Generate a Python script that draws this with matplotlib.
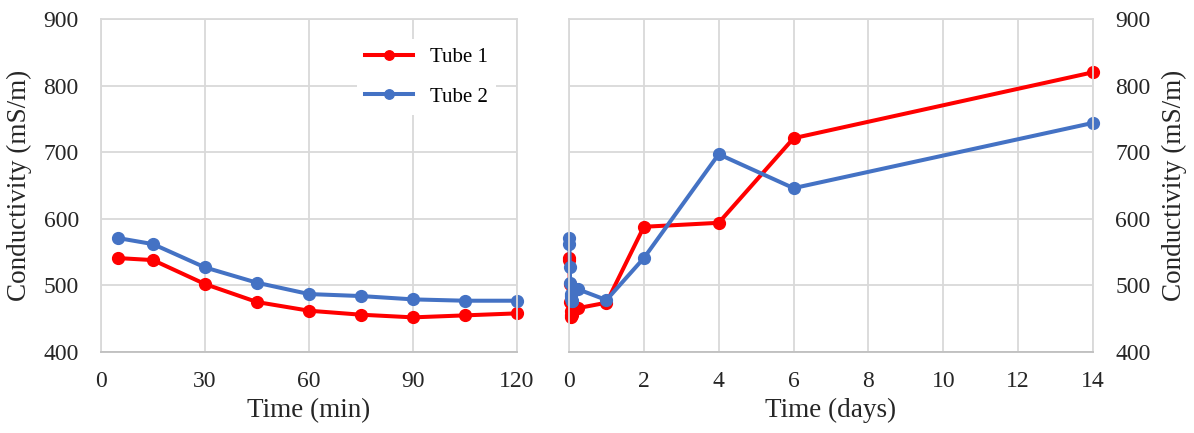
import matplotlib
matplotlib.use('Agg')
import matplotlib.pyplot as plt
import numpy as np

# conductivity during the first two hours (minutes)
minutes = [5, 15, 30, 45, 60, 75, 90, 105, 120]
tube1_min = [541, 538, 502, 475, 462, 456, 452, 455, 458]
tube2_min = [571, 562, 527, 504, 487, 484, 479, 477, 477]

# later readings (days)
days = [0.25, 1, 2, 4, 6, 14]
tube1_days = [466, 474, 588, 594, 721, 820]
tube2_days = [494, 478, 541, 697, 646, 744]

red = '#FF0000'
blue = '#4472C4'
grid_col = '#D9D9D9'
text_col = '#262626'

plt.rcParams['font.family'] = ['Liberation Serif', 'DejaVu Serif']

fig = plt.figure(figsize=(11.94, 4.33), dpi=100)
ax1 = fig.add_axes([101/1194, 1-352/433, 416/1194, 333/433])
ax2 = fig.add_axes([569/1194, 1-352/433, 524/1194, 333/433])

line_kw = dict(lw=2.9, marker='o', ms=8.5, solid_joinstyle='round')

# left panel: minutes
ax1.plot(minutes, tube1_min, color=red, label='Tube 1', **line_kw)
ax1.plot(minutes, tube2_min, color=blue, label='Tube 2', **line_kw)
ax1.set_xlim(0, 120)
ax1.set_xticks(np.arange(0, 121, 30))
ax1.set_xlabel('Time (min)', fontsize=19.5, color=text_col, labelpad=4)
ax1.set_ylabel('Conductivity (mS/m)', fontsize=19.5, color=text_col, labelpad=8)

leg = ax1.legend(loc='upper left', bbox_to_anchor=(0.59, 0.97), fontsize=15,
                 frameon=True, framealpha=1, edgecolor='none', facecolor='white',
                 handlelength=2.3, labelspacing=0.95, borderpad=0.4, fancybox=False,
                 markerscale=0.8)

# right panel: days (minutes converted to days)
t_right = [m / 1440 for m in minutes] + days
ax2.plot(t_right, tube1_min + tube1_days, color=red, **line_kw)
ax2.plot(t_right, tube2_min + tube2_days, color=blue, **line_kw)
ax2.set_xlim(0, 14)
ax2.set_xticks(np.arange(0, 15, 2))
ax2.set_xlabel('Time (days)', fontsize=19.5, color=text_col, labelpad=4)
ax2.yaxis.tick_right()
ax2.yaxis.set_label_position('right')
ax2.set_ylabel('Conductivity (mS/m)', fontsize=19.5, color=text_col, labelpad=8)

for ax in (ax1, ax2):
    ax.set_ylim(400, 900)
    ax.set_yticks(np.arange(400, 901, 100))
    ax.grid(True, color=grid_col, lw=1.3)
    ax.set_axisbelow(True)
    for s in ax.spines.values():
        s.set_color(grid_col)
        s.set_linewidth(1.3)
    ax.spines['bottom'].set_color('#BFBFBF')
    ax.tick_params(length=0, labelsize=17, colors=text_col)
    ax.tick_params(axis='x', pad=14)
    ax.tick_params(axis='y', pad=16)
    for ln in ax.lines:
        ln.set_clip_on(False)

fig.savefig('out.png', dpi=100)
